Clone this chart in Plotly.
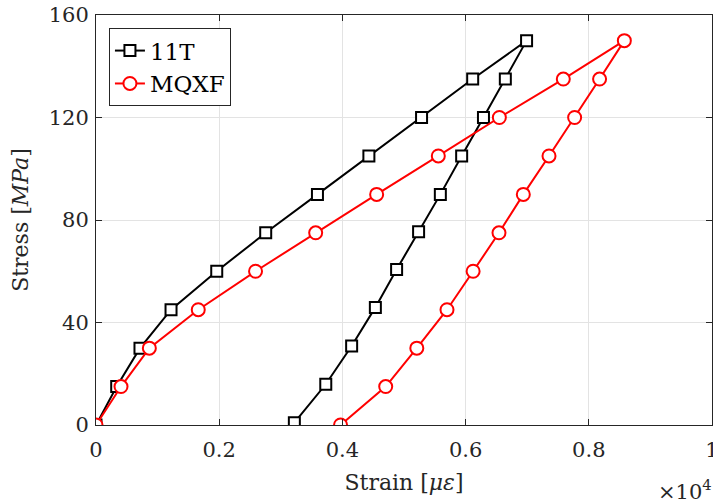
import plotly.graph_objects as go

# Data (strain in microstrain, stress in MPa)
t11_strain = [0, 336, 714, 1218, 1960, 2755, 3595, 4430, 5285, 6115, 6990,
              6645, 6290, 5936, 5590, 5237, 4880, 4535, 4150, 3730, 3220]
t11_stress = [0, 15, 30, 45, 60, 75, 90, 105, 120, 135, 150,
              135, 120, 105, 90, 75.4, 60.7, 45.9, 30.8, 15.9, 0.9]

mqxf_strain = [0, 406, 866, 1660, 2590, 3566, 4556, 5557, 6548, 7586, 8577,
               8175, 7770, 7354, 6937, 6542, 6122, 5698, 5208, 4703, 3970]
mqxf_stress = [0, 15, 30, 45, 60, 75, 90, 105, 120, 135, 150,
               135, 120, 105, 90, 75, 60, 45, 30, 15, 0]

x_ticks = [0, 2000, 4000, 6000, 8000, 10000]
x_ticktext = ["0", "0.2", "0.4", "0.6", "0.8", "1"]
y_ticks = [0, 40, 80, 120, 160]

FONT = "DejaVu Serif"
AX = "#262626"
GRID = "#e3e3e3"

fig = go.Figure()
fig.add_trace(go.Scatter(
    x=t11_strain, y=t11_stress, name="11T", mode="lines+markers",
    line=dict(color="black", width=2),
    marker=dict(symbol="square", size=11, color="white",
                line=dict(color="black", width=2)),
))
fig.add_trace(go.Scatter(
    x=mqxf_strain, y=mqxf_stress, name="MQXF", mode="lines+markers",
    line=dict(color="#ff0000", width=2),
    marker=dict(symbol="circle", size=13, color="white",
                line=dict(color="#ff0000", width=2)),
))

axis_common = dict(
    showline=True, linecolor=AX, linewidth=1, mirror="ticks",
    ticks="inside", ticklen=6, tickcolor=AX, tickwidth=1,
    showgrid=True, gridcolor=GRID, gridwidth=1, zeroline=False,
    tickfont=dict(family=FONT, size=21, color=AX), automargin=False,
)

fig.update_layout(
    width=713, height=503,
    margin=dict(l=96, r=1, t=15, b=78),
    paper_bgcolor="white", plot_bgcolor="white",
    xaxis=dict(range=[0, 10000], tickvals=x_ticks, ticktext=x_ticktext,
               ticklabelstandoff=6, ticklabeloverflow="allow",
               title=dict(text="Strain [<i>με</i>]", font=dict(family=FONT, size=22, color=AX),
                          standoff=13),
               **axis_common),
    yaxis=dict(range=[0, 160], tickvals=y_ticks, ticklabelstandoff=2,
               title=dict(text="Stress [<i>MPa</i>]", font=dict(family=FONT, size=22, color=AX),
                          standoff=14),
               **axis_common),
    legend=dict(x=0.021, y=0.968, xanchor="left", yanchor="top",
                bgcolor="white", bordercolor=AX, borderwidth=1,
                font=dict(family=FONT, size=23, color="black"),
                itemwidth=30, tracegroupgap=0),
    showlegend=True,
)

fig.add_annotation(
    text="×10<sup>4</sup>", xref="paper", yref="paper", x=1.0, y=-0.159,
    xanchor="right", yanchor="middle", showarrow=False, xshift=2,
    font=dict(family=FONT, size=21, color=AX),
)

fig.write_html("out.html")
